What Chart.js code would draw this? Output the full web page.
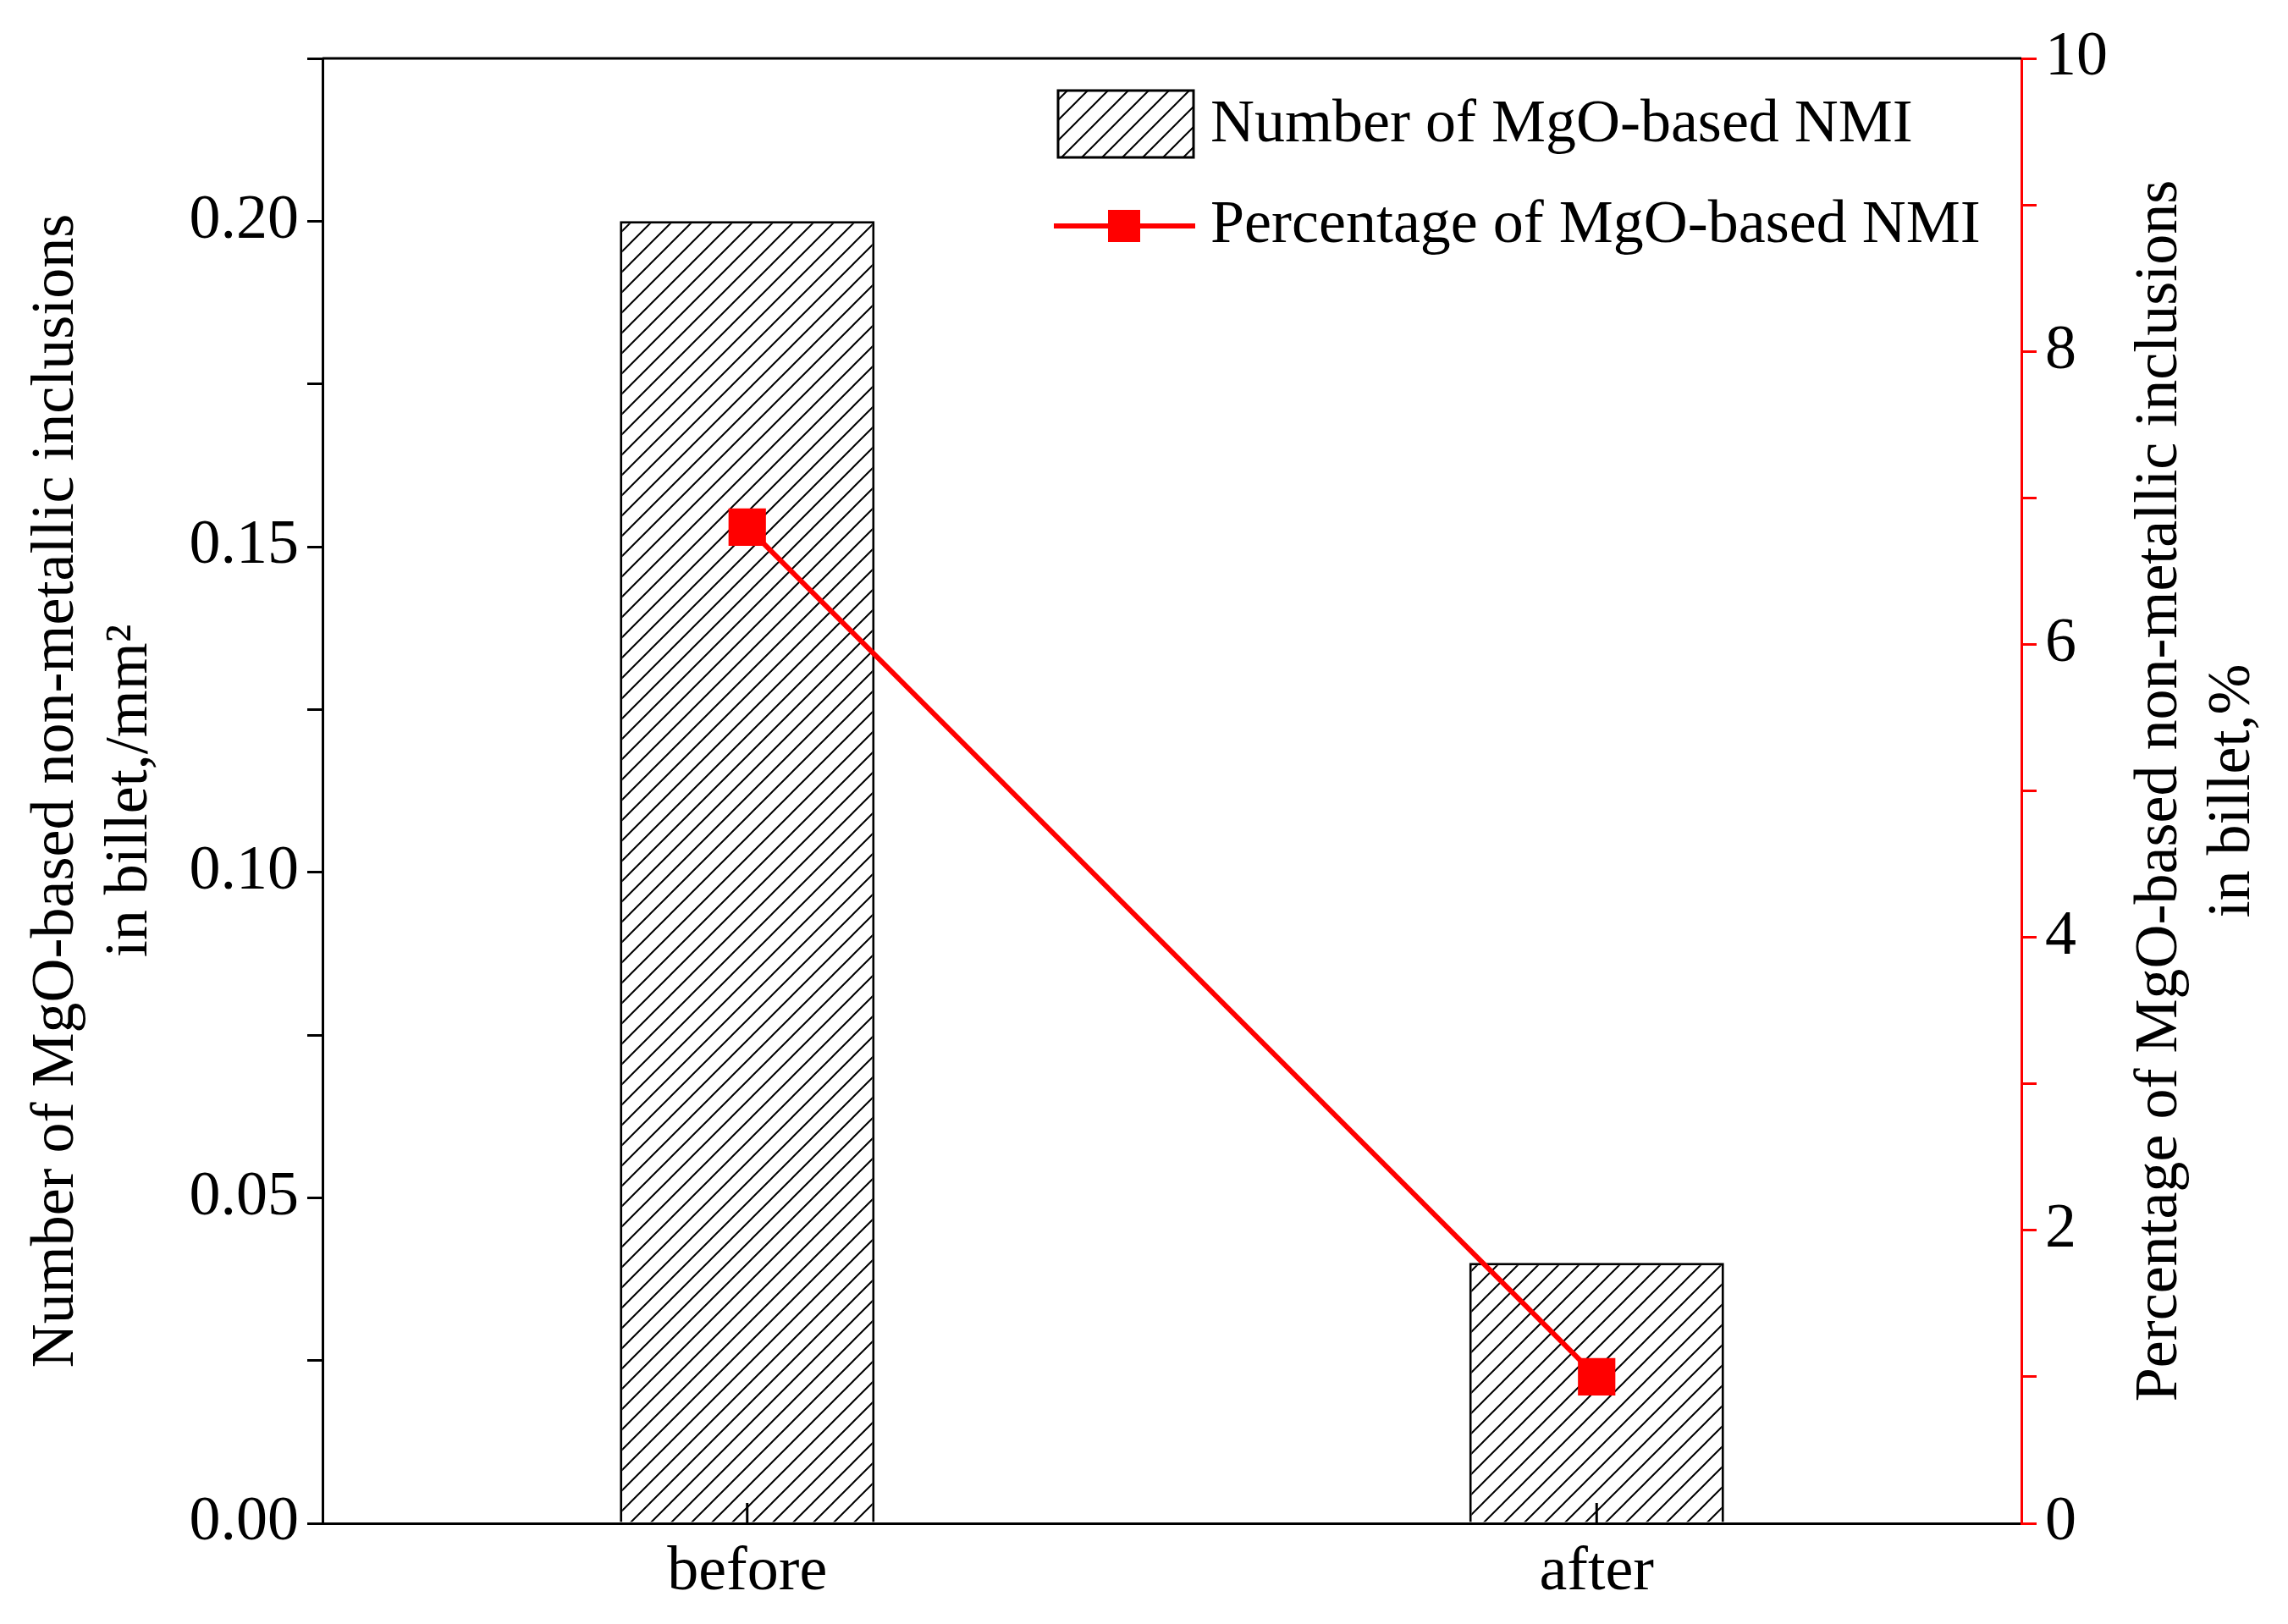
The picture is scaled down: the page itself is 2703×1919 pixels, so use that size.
<!DOCTYPE html>
<html><head><meta charset="utf-8">
<script src="https://cdn.jsdelivr.net/npm/chart.js@4/dist/chart.umd.min.js"></script>
<style>html,body{margin:0;padding:0;background:#fff}canvas{display:block}</style>
</head><body>
<div style="width:2703px;height:1919px"><canvas id="c"></canvas></div>
<script>
const categories = ["before", "after"];
const numberValues = [0.20, 0.04];
const percentValues = [6.8, 1.0];
const seriesNames = ["Number of MgO-based NMI", "Percentage of MgO-based NMI"];
const leftTitle = ["Number of MgO-based non-metallic inclusions", "in billet,/mm\u00B2"];
const rightTitle = ["Percentage of MgO-based non-metallic inclusions", "in billet,%"];

const FONT = "'Liberation Serif', 'Times New Roman', serif";
function hatch(){
  const p = document.createElement('canvas'); p.width = 24; p.height = 24;
  const g = p.getContext('2d');
  g.fillStyle = '#fff'; g.fillRect(0,0,24,24);
  g.strokeStyle = '#000'; g.lineWidth = 2;
  g.beginPath(); g.moveTo(-2,26); g.lineTo(26,-2);
  g.moveTo(-14,14); g.lineTo(14,-14); g.moveTo(10,38); g.lineTo(38,10); g.stroke();
  return document.getElementById('c').getContext('2d').createPattern(p,'repeat');
}
const pat = hatch();

const deco = {
  id: 'deco',
  afterDraw(chart){
    const ctx = chart.ctx, a = chart.chartArea;
    ctx.save();
    ctx.strokeStyle = '#000'; ctx.lineWidth = 3;
    ctx.beginPath(); ctx.moveTo(a.left, a.top); ctx.lineTo(a.right, a.top); ctx.stroke();
    const xs = chart.scales.x;
    categories.forEach((c,i)=>{ const x = xs.getPixelForValue(i);
      ctx.beginPath(); ctx.moveTo(x, a.bottom); ctx.lineTo(x, a.bottom-24); ctx.stroke(); });
    // legend
    ctx.fillStyle = pat; ctx.fillRect(1250,107,160,79);
    ctx.strokeRect(1250,107,160,79);
    ctx.font = "72px " + FONT; ctx.fillStyle = '#000'; ctx.textBaseline = 'middle';
    ctx.fillText(seriesNames[0], 1430, 148);
    ctx.fillText(seriesNames[1], 1430, 267);
    ctx.strokeStyle = '#ff0000'; ctx.lineWidth = 6;
    ctx.beginPath(); ctx.moveTo(1245,267); ctx.lineTo(1412,267); ctx.stroke();
    ctx.fillStyle = '#ff0000'; ctx.fillRect(1309,248,38,38);
    // right axis title, reading bottom-to-top
    ctx.fillStyle = '#000'; ctx.font = "72px " + FONT; ctx.textAlign = 'center';
    const cy = (a.top + a.bottom) / 2;
    ctx.translate(2552, cy + 0); ctx.rotate(-Math.PI/2);
    ctx.fillText(rightTitle[0], 0, 0);
    ctx.fillText(rightTitle[1], 0, 86);
    ctx.restore();
  }
};

new Chart(document.getElementById('c'), {
  data: {
    labels: categories,
    datasets: [
      { type:'line', label:seriesNames[1], data:percentValues, yAxisID:'y2',
        borderColor:'#ff0000', borderWidth:6, pointStyle:'rect', pointRadius:27,
        pointBackgroundColor:'#ff0000', pointBorderColor:'#ff0000', order:0 },
      { type:'bar', label:seriesNames[0], data:numberValues, yAxisID:'y',
        backgroundColor:pat, borderColor:'#000', borderWidth:3,
        barPercentage:0.3, categoryPercentage:1, order:1 }
    ]
  },
  options: {
    responsive:true, maintainAspectRatio:false, animation:false,
    layout:{padding:{left:20,right:20,top:69,bottom:5}},
    plugins:{legend:{display:false}, tooltip:{enabled:false}},
    scales:{
      x:{ offset:true, grid:{display:false, drawTicks:false}, border:{color:'#000',width:3},
          ticks:{color:'#000', font:{family:FONT,size:74}, padding:14},
          afterFit(s){ s.height = 114; } },
      y:{ position:'left', min:0, max:0.225,
          ticks:{stepSize:0.025, color:'#000', font:{family:FONT,size:74}, padding:10,
            callback:(v)=> (Math.round(v*1000)%50===0 ? v.toFixed(2) : '')},
          grid:{drawOnChartArea:false, color:'#000', lineWidth:3, tickLength:18},
          border:{color:'#000',width:3},
          title:{display:true, text:leftTitle, color:'#000', font:{family:FONT,size:72}, padding:{bottom:20}},
          afterFit(s){ s.width = 361; } },
      y2:{ position:'right', min:0, max:10,
          ticks:{stepSize:1, color:'#000', font:{family:FONT,size:74}, padding:10,
            callback:(v)=> (v%2===0 ? String(v) : '')},
          grid:{drawOnChartArea:false, color:'#ff0000', lineWidth:3, tickLength:18},
          border:{color:'#ff0000',width:3},
          title:{display:false},
          afterFit(s){ s.width = 295; } }
    }
  },
  plugins:[deco]
});
</script>
</body></html>
